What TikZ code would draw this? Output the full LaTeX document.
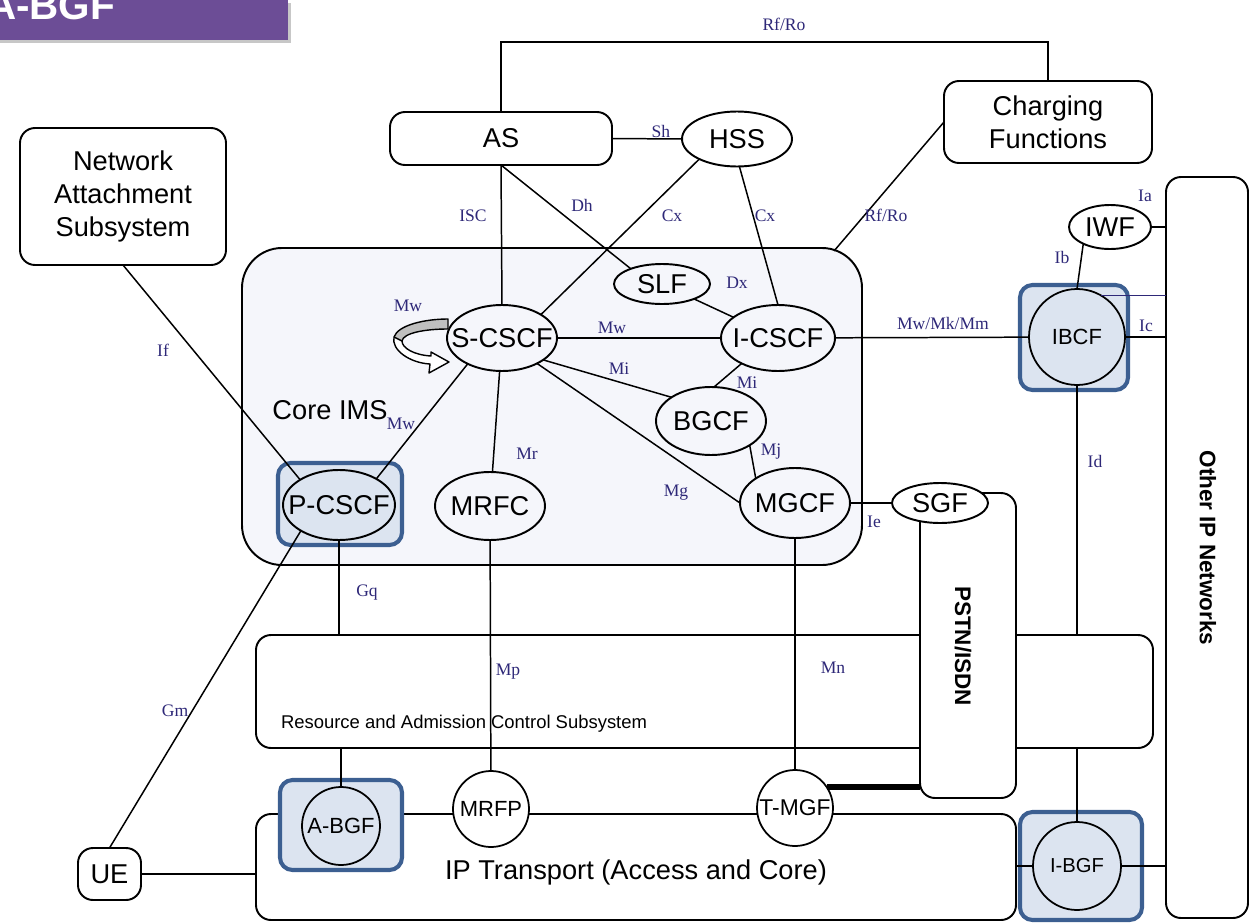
\documentclass[tikz,border=0pt]{standalone}
\usepackage{fontspec}
\setmainfont{Liberation Sans}
\newfontfamily\ifacefont{Liberation Serif}
\usetikzlibrary{shapes.geometric}
\newcommand\pxu{0.02cm}
\definecolor{iface}{RGB}{46,40,120}
\definecolor{hlfill}{RGB}{220,228,240}
\definecolor{hlborder}{RGB}{60,95,145}
\definecolor{bannerpurple}{RGB}{108,77,150}
\definecolor{coretint}{RGB}{245,246,251}

\begin{document}
\begin{tikzpicture}[x=0.02cm, y=-0.02cm,
  every node/.style={inner sep=0pt, outer sep=0pt},
  conn/.style={line width=0.85pt},
  box/.style={draw, line width=1.1pt, rounded corners=0.3cm, rectangle, fill=white},
  bigtext/.style={font=\fontsize{15.5}{19}\selectfont, align=center},
  ellnode/.style={draw, line width=1.1pt, ellipse, fill=white},
  coreell/.style={ellnode, fill=coretint},
  circnode/.style={draw, line width=1pt, circle, fill=white},
  elltext/.style={font=\fontsize{15.5}{18}\selectfont},
  circtext/.style={font=\fontsize{12.5}{15}\selectfont},
  iflabel/.style={text=iface, font=\ifacefont\fontsize{10}{12}\selectfont},
  hlbox/.style={draw=hlborder, fill=hlfill, line width=2.3pt, rounded corners=0.25cm, rectangle},
  vtext/.style={rotate=-90, font=\bfseries\fontsize{12.8}{15}\selectfont},
]
\useasboundingbox (0,0) rectangle (1249,923);

% title banner
\fill[black!22] (-5,3) rectangle (291,43);
\fill[bannerpurple] (-5,-5) rectangle (288,40);
\node[anchor=base east, text=white, font=\bfseries\fontsize{23}{26}\selectfont] (bannertext) at (115,19) {A-BGF};

% large areas
\node[draw, line width=1.1pt, rounded corners=0.8cm, fill=coretint,
      minimum width=620*\pxu, minimum height=317*\pxu] (core) at (552,406.5) {};
\node[box, minimum width=897*\pxu, minimum height=113*\pxu] (racs) at (704.5,691.5) {};
\node[box, minimum width=760*\pxu, minimum height=106*\pxu] (ip) at (636,867) {};
\node[box, minimum width=96*\pxu, minimum height=305*\pxu] (pstn) at (968,645.5) {};
\node[box, minimum width=82*\pxu, minimum height=741*\pxu] (oip) at (1207,547.5) {};
\node[box, bigtext, minimum width=206*\pxu, minimum height=137*\pxu] (nass) at (123,196.5) {Network\\Attachment\\Subsystem};
\node[box, bigtext, minimum width=222*\pxu, minimum height=53*\pxu] (as) at (501,138.5) {AS};
\node[box, bigtext, minimum width=208*\pxu, minimum height=82*\pxu] (cf) at (1048,122) {Charging\\Functions};
\node[box, bigtext, minimum width=63*\pxu, minimum height=52*\pxu] (ue) at (109.5,874) {UE};

% area captions
\node[bigtext] (coretext) at (330,410) {Core IMS};
\node[anchor=west, font=\fontsize{10.5}{12}\selectfont] (racstext) at (281,724) {Resource and Admission Control Subsystem};
\node[bigtext] (iptext) at (636,872) {IP Transport (Access and Core)};
\node[vtext] (pstntext) at (963,646) {PSTN/ISDN};
\node[vtext] (oiptext) at (1208,548) {Other IP Networks};

% highlighted border gateways
\node[hlbox, minimum width=124*\pxu, minimum height=82*\pxu] (hlpcscf) at (340,504) {};
\node[hlbox, minimum width=122*\pxu, minimum height=90*\pxu] (hlabgf) at (341,825) {};
\node[hlbox, minimum width=108*\pxu, minimum height=105*\pxu] (hlibcf) at (1074,337.5) {};
\node[hlbox, minimum width=122*\pxu, minimum height=108*\pxu] (hlibgf) at (1081,866) {};

% functional entities
\node[ellnode, minimum width=110*\pxu, minimum height=55*\pxu, label={[elltext]center:HSS}] (hss) at (737,139) {};
\node[coreell, minimum width=96*\pxu, minimum height=40*\pxu, label={[elltext]center:SLF}] (slf) at (662,284) {};
\node[coreell, minimum width=110*\pxu, minimum height=66*\pxu, label={[elltext]center:S-CSCF}] (scscf) at (502,338) {};
\node[coreell, minimum width=114*\pxu, minimum height=66*\pxu, label={[elltext]center:I-CSCF}] (icscf) at (778,338) {};
\node[coreell, minimum width=110*\pxu, minimum height=68*\pxu, label={[elltext]center:BGCF}] (bgcf) at (711,421) {};
\node[coreell, minimum width=110*\pxu, minimum height=70*\pxu, label={[elltext]center:MGCF}] (mgcf) at (795,503) {};
\node[coreell, minimum width=110*\pxu, minimum height=68*\pxu, label={[elltext]center:MRFC}] (mrfc) at (490,506) {};
\node[ellnode, fill=hlfill, minimum width=112*\pxu, minimum height=70*\pxu, label={[elltext]center:P-CSCF}] (pcscf) at (339,505) {};
\node[ellnode, minimum width=82*\pxu, minimum height=44*\pxu, label={[elltext]center:IWF}] (iwf) at (1110,227) {};
\node[ellnode, minimum width=96*\pxu, minimum height=40*\pxu, label={[elltext]center:SGF}] (sgf) at (940,503) {};

\node[circnode, fill=hlfill, minimum size=96*\pxu, label={[circtext]center:IBCF}] (ibcf) at (1077,337) {};
\node[circnode, fill=hlfill, minimum size=78*\pxu, label={[circtext]center:A-BGF}] (abgf) at (341,826) {};
\node[circnode, minimum size=76*\pxu, label={[circtext]center:MRFP}] (mrfp) at (491,809) {};
\node[circnode, minimum size=76*\pxu, label={[circtext, font=\fontsize{13}{15}\selectfont]center:T-MGF}] (tmgf) at (795,808) {};
\node[circnode, fill=hlfill, minimum size=88*\pxu, label={[circtext, font=\fontsize{11.5}{14}\selectfont]center:I-BGF}] (ibgf) at (1077,866) {};

% reference points
\coordinate (rfline) at (0,42);
\coordinate (corerf) at (834,251);

% interfaces between the entities
\draw[conn] (as.north) -- (as.north |- rfline) -| (cf.north);
\draw[conn] (as.east) -- (hss.west);
\draw[conn] (as.south) -- (scscf.north);
\draw[conn] (as.south) -- (slf.154);
\draw[conn] (hss.208) -- (scscf.31);
\draw[conn] (hss.-85) -- (icscf.north);
\draw[conn] (cf.west) -- (corerf);
\draw[conn] (iwf.east) -- (iwf.east -| oip.west);
\draw[conn] (iwf.212) -- (ibcf.north);
\draw[conn] (icscf) -- (ibcf);
\draw[conn] (ibcf.east) -- (ibcf.east -| oip.west);
\draw[line width=0.8pt, iface] (ibcf.60) -- (ibcf.60 -| oip.west);
\draw[conn] (ibcf.south) -- (ibcf.south |- racs.north);
\draw[conn] (slf) -- (icscf);
\draw[conn] (scscf) -- (icscf);
\draw[conn] (scscf.-28) -- (bgcf.149);
\draw[conn] (scscf.-36) -- (mgcf.west);
\draw[conn] (icscf.215) -- (bgcf.85);
\draw[conn] (bgcf.-32) -- (mgcf.148);
\draw[conn] (scscf.217) -- (pcscf.35);
\draw[conn] (scscf) -- (mrfc);
\draw[conn] (nass.south) -- (pcscf.147);
\draw[conn] (mgcf.east) -- (sgf.west);
\draw[conn] (mrfc) -- (mrfp);
\draw[conn] (mgcf.south) -- (tmgf.north);
\draw[conn] (pcscf.south) -- (pcscf.south |- racs.north);
\draw[conn] (racs.south -| abgf.north) -- (abgf.north);
\draw[conn] (racs.south -| ibgf.north) -- (ibgf.north);
\draw[conn] (ibgf.east) -- (ibgf.east -| oip.west);
\draw[conn] (ibgf.west) -- (ibgf.west -| ip.east);
\draw[conn] (ue.east) -- (ue.east -| ip.west);
\draw[conn] (ue.north) -- (pcscf.214);
\draw[line width=3.4pt] (tmgf.33) -- (tmgf.33 -| pstn.west);

% S-CSCF loop-back arrow (Mw)
\fill[white] (448,319) .. controls (425,319) and (398,325) .. (394,337)
  .. controls (391,350) and (410,363) .. (430,364) -- (429,373) -- (449,362)
  -- (431,352) -- (431,356) .. controls (414,355) and (402,348) .. (402,341)
  .. controls (403,333) and (425,329) .. (448,329) -- cycle;
\fill[black!25] (448,319) .. controls (425,319) and (398,325) .. (394,337)
  -- (402,341) .. controls (403,333) and (425,329) .. (448,329) -- cycle;
\draw[line width=0.8pt, line join=round] (448,319) .. controls (425,319) and (398,325) .. (394,337)
  .. controls (391,350) and (410,363) .. (430,364) -- (429,373) -- (449,362)
  -- (431,352) -- (431,356) .. controls (414,355) and (402,348) .. (402,341)
  .. controls (403,333) and (425,329) .. (448,329) -- cycle;
\draw[line width=0.8pt] (394,337) -- (402,341);

% interface names
\node[iflabel] (lrfro1) at (784,24) {Rf/Ro};
\node[iflabel] (lsh) at (661,131) {Sh};
\node[iflabel] (lisc) at (473,216) {ISC};
\node[iflabel] (ldh) at (582,205) {Dh};
\node[iflabel] (lcx1) at (672,216) {Cx};
\node[iflabel] (lcx2) at (765,216) {Cx};
\node[iflabel] (lrfro2) at (886,215) {Rf/Ro};
\node[iflabel] (lia) at (1145,196) {Ia};
\node[iflabel] (lib) at (1062,257) {Ib};
\node[iflabel] (ldx) at (737,283) {Dx};
\node[iflabel] (lmwloop) at (408,306) {Mw};
\node[iflabel] (lmw1) at (612,328) {Mw};
\node[iflabel] (lmwkm) at (943,323) {Mw/Mk/Mm};
\node[iflabel] (lic) at (1146,326) {Ic};
\node[iflabel] (lmi1) at (619,369) {Mi};
\node[iflabel] (lmi2) at (747,383) {Mi};
\node[iflabel] (lif) at (163,350) {If};
\node[iflabel] (lmw2) at (401,424) {Mw};
\node[iflabel] (lmr) at (527,454) {Mr};
\node[iflabel] (lmj) at (771,452) {Mj};
\node[iflabel] (lmg) at (676,493) {Mg};
\node[iflabel] (lid) at (1095,461) {Id};
\node[iflabel] (lie) at (874,522) {Ie};
\node[iflabel] (lgq) at (367,593) {Gq};
\node[iflabel] (lmp) at (508,672) {Mp};
\node[iflabel] (lmn) at (833,668) {Mn};
\node[iflabel] (lgm) at (175,711) {Gm};
\end{tikzpicture}
\end{document}
